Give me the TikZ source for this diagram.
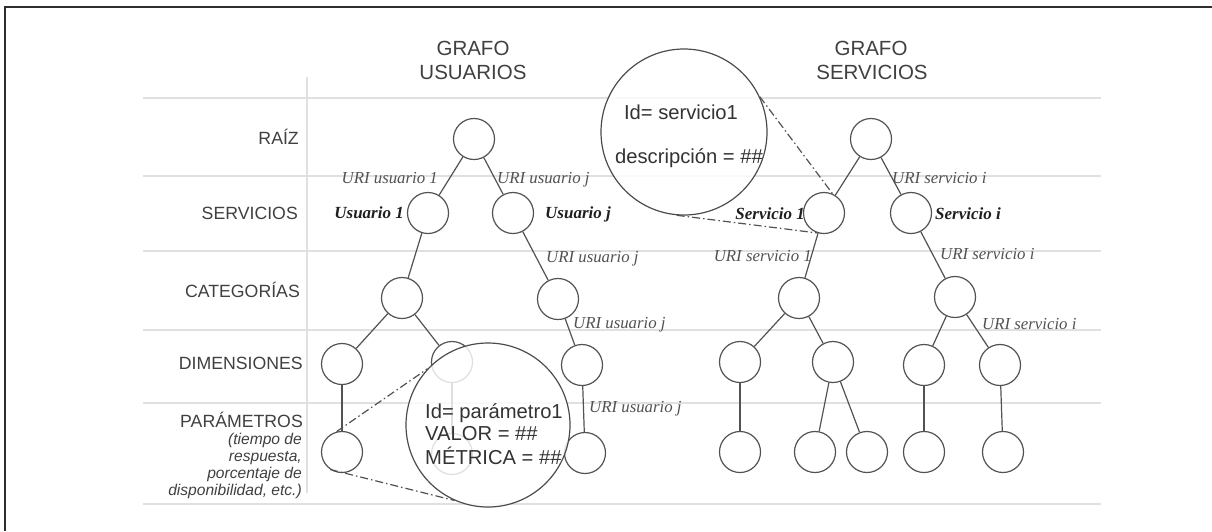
\documentclass[tikz,border=0pt]{standalone}
\usepackage{fontspec}
\setmainfont{Liberation Sans}
\newfontfamily\tnr{Liberation Serif}
\begin{document}
\begin{tikzpicture}[x=1pt,y=-1pt,
  grid/.style={draw=black!12, line width=2pt},
  nd/.style={circle, draw=black!68, line width=1.2pt, minimum size=41pt, inner sep=0pt},
  edge/.style={draw=black!68, line width=1.2pt},
  rowlab/.style={anchor=base east, text=black!75, inner sep=0pt, font=\fontsize{17.7}{20}\selectfont},
  rownote/.style={anchor=base east, text=black!75, inner sep=0pt, font=\itshape\fontsize{15.6}{17}\selectfont},
  ttl/.style={anchor=base, text=black!75, inner sep=0pt, font=\fontsize{20.5}{24}\selectfont},
  uri/.style={text=black!68, inner sep=0pt, font=\tnr\itshape\fontsize{16.8}{18}\selectfont},
  nm/.style={text=black!88, inner sep=0pt, font=\tnr\bfseries\itshape\fontsize{17}{19}\selectfont},
  ztxt/.style={text=black!80, inner sep=0pt, font=\fontsize{20.2}{24}\selectfont},
  zline/.style={draw=black!68, line width=1.2pt, dash pattern=on 8pt off 3pt on 1.5pt off 3pt},
  magn/.style={circle, draw=black!70, line width=1.2pt, inner sep=0pt, fill=white, fill opacity=0.82},
  frame/.style={draw=black!82, line width=2pt}
]
\useasboundingbox (0,0) rectangle (1212,531);
% frame
\coordinate (fa) at (5,531); \coordinate (fb) at (5,7); \coordinate (fc) at (1212,7);
\draw[frame] (fa) -- (fb) -- (fc);
% grid
\foreach \yy in {98,176,251,330,403,504} \draw[grid] (143,\yy) -- (1101,\yy);
\draw[grid] (307,77) -- (307,493);
% titles
\node[ttl] (t1a) at (473,55) {GRAFO};
\node[ttl] (t1b) at (473,79) {USUARIOS};
\node[ttl] (t2a) at (871,55) {GRAFO};
\node[ttl] (t2b) at (872,79) {SERVICIOS};
% row labels
\node[rowlab] (r1) at (299,144) {RAÍZ};
\node[rowlab] (r2) at (298,219) {SERVICIOS};
\node[rowlab] (r3) at (300,297) {CATEGORÍAS};
\node[rowlab] (r4) at (303,369) {DIMENSIONES};
\node[rowlab] (r5) at (303,427) {PARÁMETROS};
\node[rownote] (n1) at (302,444) {(tiempo de};
\node[rownote] (n2) at (302,461) {respuesta,};
\node[rownote] (n3) at (302,478) {porcentaje de};
\node[rownote] (n4) at (302,495) {disponibilidad, etc.)};
% user graph nodes
\node[nd] (u0) at (474,139) {};
\node[nd] (u1) at (428,213) {};
\node[nd] (uj) at (513,213) {};
\node[nd] (uc1) at (402,298) {};
\node[nd] (uc2) at (558,299) {};
\node[nd] (ud1) at (342,364) {};
\node[nd] (ud2) at (452,362) {};
\node[nd] (ud3) at (582,365) {};
\node[nd] (up1) at (342,452) {};
\node[nd] (up2) at (452,454) {};
\node[nd] (up3) at (585,453) {};
\draw[edge] (u0) -- (u1);
\draw[edge] (u0) -- (uj);
\draw[edge] (u1) -- (uc1);
\draw[edge] (uj) -- (uc2);
\draw[edge] (uc1) -- (ud1);
\draw[edge] (uc1) -- (ud2);
\draw[edge] (uc2) -- (ud3);
\draw[edge] (ud1) -- (up1);
\draw[edge] (ud2) -- (up2);
\draw[edge] (ud3) -- (up3);
% service graph nodes
\node[nd] (s0) at (871,139) {};
\node[nd] (s1) at (824,213) {};
\node[nd] (si) at (911,213) {};
\node[nd] (sc1) at (799,298) {};
\node[nd] (sc2) at (955,297) {};
\node[nd] (sd1) at (740,362) {};
\node[nd] (sd2) at (833,362) {};
\node[nd] (sd3) at (924,365) {};
\node[nd] (sd4) at (1000,365) {};
\node[nd] (sp1) at (740,452) {};
\node[nd] (sp2) at (815,452) {};
\node[nd] (sp3) at (867,452) {};
\node[nd] (sp4) at (924,452) {};
\node[nd] (sp5) at (1003,452) {};
\draw[edge] (s0) -- (s1);
\draw[edge] (s0) -- (si);
\draw[edge] (s1) -- (sc1);
\draw[edge] (si) -- (sc2);
\draw[edge] (sc1) -- (sd1);
\draw[edge] (sc1) -- (sd2);
\draw[edge] (sc2) -- (sd3);
\draw[edge] (sc2) -- (sd4);
\draw[edge] (sd1) -- (sp1);
\draw[edge] (sd2) -- (sp2);
\draw[edge] (sd2) -- (sp3);
\draw[edge] (sd3) -- (sp4);
\draw[edge] (sd4) -- (sp5);
% edge labels
\node[uri, anchor=base east] (l1) at (438,183) {URI usuario 1};
\node[uri, anchor=base west] (l2) at (497,183) {URI usuario j};
\node[nm, anchor=base east] (l3) at (404,218) {Usuario 1};
\node[nm, anchor=base west] (l4) at (545,218) {Usuario j};
\node[uri, anchor=base west] (l5) at (546,262) {URI usuario j};
\node[uri, anchor=base west] (l6) at (573,328) {URI usuario j};
\node[uri, anchor=base west] (l7) at (589,412) {URI usuario j};
\node[uri, anchor=base west] (l8) at (892,183) {URI servicio i};
\node[nm, anchor=base east] (l9) at (805,219) {Servicio 1};
\node[nm, anchor=base west] (l10) at (935,219) {Servicio i};
\node[uri, anchor=base east] (l11) at (812,261) {URI servicio 1};
\node[uri, anchor=base west] (l12) at (940,259) {URI servicio i};
\node[uri, anchor=base west] (l13) at (982,329) {URI servicio i};
% magnifiers
\node[magn, minimum size=166pt] (m1) at (684,132) {};
\node[magn, minimum size=164pt] (m2) at (488,425) {};
\draw[zline] (m1.25) -- (s1.66);
\draw[zline] (m1.265) -- (s1.251);
\draw[zline] (up1.105) -- (m2.137);
\draw[zline] (up1.236) -- (m2.246);
\node[ztxt, anchor=base] (z1) at (681,119) {Id= servicio1};
\node[ztxt, anchor=base] (z2) at (689,163) {descripción = \#\#};
\node[ztxt, anchor=base west] (z3) at (425,418) {Id= parámetro1};
\node[ztxt, anchor=base west] (z4) at (425,440) {VALOR = \#\#};
\node[ztxt, anchor=base west] (z5) at (425,464) {MÉTRICA = \#\#};
\end{tikzpicture}
\end{document}
